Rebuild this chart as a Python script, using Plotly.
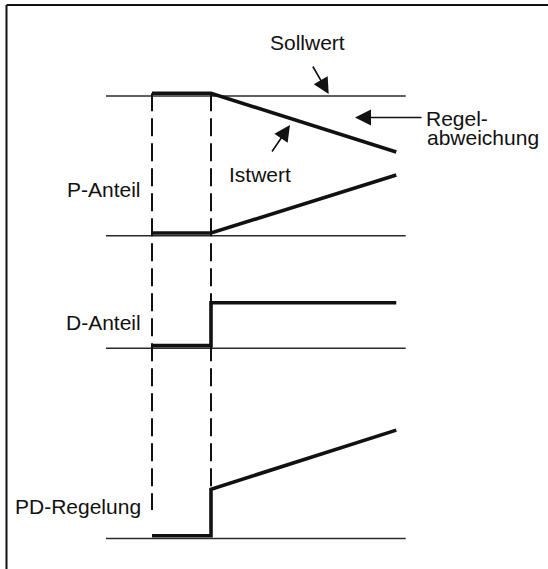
import plotly.graph_objects as go

# zeitpunkte (willkuerliche einheiten): start, sprung, ende
t_kurve = [0.0, 1.0, 4.14]
t_achse = [-0.78, 4.3]

# P-Anteil
sollwert = 1.0
istwert = [1.0, 1.0, 0.58]
p_anteil = [0.0, 0.0, 0.415]

# D-Anteil (sprung bei t=1)
t_sprung = [0.0, 1.0, 1.0, 4.14]
d_anteil = [0.0, 0.0, 0.307, 0.307]

# PD-Regelung = P + D
pd_regelung = [0.0, 0.0, 0.333, 0.756]

# lage der einzelnen diagramme (nulllinie)
off_p = 0.0
off_d = -0.806
off_pd = -2.167

W, H = 548, 569
X0, XS = 152.0, 59.0      # pixel bei t=0, pixel pro zeiteinheit
Y0, YS = 235.7, 139.7     # pixel bei y=0, pixel pro einheit
LIFT = 2.7 / YS           # dicke linie sitzt knapp ueber der nulllinie


def px_x(p):
    return (p - X0) / XS


def px_y(p):
    return (Y0 - p) / YS


thin = dict(color="#2b2b2b", width=1.4)
thick = dict(color="#111111", width=3.6)
dash = dict(color="#111111", width=2, dash="18px,7px")

fig = go.Figure()


def line(x, y, style):
    fig.add_trace(go.Scatter(x=x, y=y, mode="lines", line=style,
                             hoverinfo="skip", showlegend=False))


# nulllinien / sollwert
line(t_achse, [off_p + sollwert] * 2, thin)
line(t_achse, [off_p] * 2, thin)
line(t_achse, [off_d] * 2, thin)
line(t_achse, [off_pd] * 2, thin)

# gestrichelte hilfslinien
line([t_kurve[0]] * 2, [sollwert + LIFT, px_y(510)], dash)
line([t_kurve[1]] * 2, [sollwert + LIFT, off_pd + pd_regelung[2] + LIFT], dash)

# kurven
line(t_kurve, [off_p + v + LIFT for v in istwert], thick)
line(t_kurve, [off_p + v + LIFT for v in p_anteil], thick)
line(t_sprung, [off_d + v + LIFT for v in d_anteil], thick)
line(t_sprung, [off_pd + v + LIFT for v in pd_regelung], thick)

font = dict(family="Arial, Liberation Sans, sans-serif", size=21, color="#111111")

labels = [
    ("Sollwert", 307, 42, "center"),
    ("Regel-", 424, 118.3, "left"),
    ("abweichung", 425, 137, "left"),
    ("Istwert", 227, 174.5, "left"),
    ("P-Anteil", 143, 189.5, "right"),
    ("D-Anteil", 143, 322.5, "right"),
    ("PD-Regelung", 143, 506.5, "right"),
]
for txt, x, y, anc in labels:
    fig.add_annotation(x=px_x(x), y=px_y(y), text=txt, showarrow=False,
                       xanchor=anc, yanchor="middle", font=font)

# pfeile: (spitze, schwanz)
pfeile = [
    ((328.7, 94), (312, 65)),
    ((290, 125), (271, 153)),
    ((355, 117.5), (423, 117.5)),
]
for (hx, hy), (tx, ty) in pfeile:
    fig.add_annotation(x=px_x(hx), y=px_y(hy), ax=px_x(tx), ay=px_y(ty),
                       axref="x", ayref="y", text="", showarrow=True,
                       arrowhead=2, arrowsize=2.0, arrowwidth=1.6,
                       arrowcolor="#111111", standoff=0)

# rahmen (nur oben und links sichtbar)
fig.add_shape(type="line", xref="paper", yref="paper",
              x0=6.5 / W, x1=1, y0=1 - 5 / H, y1=1 - 5 / H,
              line=dict(color="#111111", width=2))
fig.add_shape(type="line", xref="paper", yref="paper",
              x0=6.5 / W, x1=6.5 / W, y0=0, y1=1 - 5 / H,
              line=dict(color="#111111", width=2))

fig.update_xaxes(range=[px_x(0), px_x(W)], visible=False, fixedrange=True)
fig.update_yaxes(range=[px_y(H), px_y(0)], visible=False, fixedrange=True)
fig.update_layout(width=W, height=H, margin=dict(l=0, r=0, t=0, b=0),
                  plot_bgcolor="white", paper_bgcolor="white")

# seitenrand des browsers entfernen, damit die grafik bei 0,0 beginnt
fig.write_html("out.html", config={"displayModeBar": False},
               post_script="document.body.style.margin='0';"
                           "document.body.style.overflow='hidden';")
